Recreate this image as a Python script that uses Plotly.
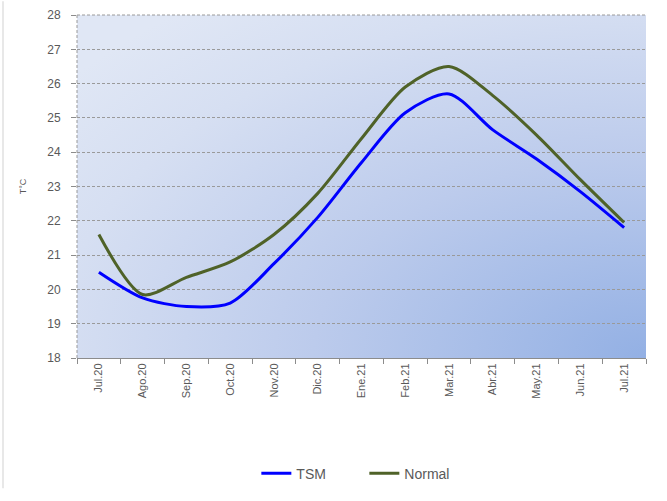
import base64
import plotly.graph_objects as go

categories = ["Jul.20", "Ago.20", "Sep.20", "Oct.20", "Nov.20", "Dic.20", "Ene.21",
              "Feb.21", "Mar.21", "Abr.21", "May.21", "Jun.21", "Jul.21"]
tsm = [20.5, 19.75, 19.5, 19.6, 20.75, 22.1, 23.7, 25.15, 25.7, 24.65, 23.8, 22.85, 21.8]
normal = [21.6, 19.85, 20.35, 20.8, 21.6, 22.8, 24.4, 25.9, 26.5, 25.65, 24.5, 23.2, 21.95]

W, H = 667, 501
ML, MR, MT, MB = 77, 21, 15, 136

svg = (
    '<svg xmlns="http://www.w3.org/2000/svg" width="200" height="200" viewBox="0 0 200 200" preserveAspectRatio="none">'
    '<defs><radialGradient id="g" cx="1" cy="1" r="1.3" gradientUnits="objectBoundingBox">'
    '<stop offset="0" stop-color="#93b0e4"/>'
    '<stop offset="0.45" stop-color="#bccbec"/>'
    '<stop offset="0.8" stop-color="#d6dff2"/>'
    '<stop offset="1" stop-color="#e0e7f5"/>'
    '</radialGradient></defs>'
    '<rect x="0" y="0" width="200" height="200" fill="url(#g)"/></svg>'
)
src = "data:image/svg+xml;base64," + base64.b64encode(svg.encode()).decode()

grid_col = "#9a9a9a"

fig = go.Figure()
fig.add_trace(go.Scatter(x=categories, y=tsm, name="TSM", mode="lines",
                         line=dict(color="#0000ff", width=3, shape="spline", smoothing=0.8)))
fig.add_trace(go.Scatter(x=categories, y=normal, name="Normal", mode="lines",
                         line=dict(color="#4f6228", width=3, shape="spline", smoothing=0.8)))

fig.update_layout(
    width=W, height=H,
    margin=dict(l=ML, r=MR, t=MT, b=MB),
    paper_bgcolor="white",
    plot_bgcolor="rgba(0,0,0,0)",
    font=dict(family="Liberation Sans", size=11, color="#595959"),
    showlegend=True,
    legend=dict(orientation="h", x=0.505, xanchor="center", y=-0.337, yanchor="middle",
                font=dict(size=14, color="#595959"), entrywidth=63, entrywidthmode="pixels"),
    images=[dict(source=src, xref="paper", yref="paper", x=0, y=1, sizex=1, sizey=1,
                 xanchor="left", yanchor="top", sizing="stretch", layer="below")],
    shapes=[
        dict(type="line", xref="paper", yref="paper", x0=0, x1=0, y0=0, y1=1,
             line=dict(color=grid_col, width=1, dash="3px,2px")),
        dict(type="line", xref="paper", yref="paper", x0=0, x1=1, y0=1, y1=1,
             line=dict(color=grid_col, width=1, dash="3px,2px")),
        dict(type="line", xref="paper", yref="paper", x0=-0.13, x1=-0.13, y0=-0.38, y1=1.04,
             line=dict(color="#e8e8e8", width=2)),
    ],
)
fig.update_xaxes(
    type="category", tickson="boundaries", ticks="outside", ticklen=5, tickcolor="#8c8c8c",
    showline=True, linecolor="#8c8c8c", linewidth=1, showgrid=False, automargin=False,
    tickangle=-90, tickfont=dict(size=11, color="#595959"), range=[-0.5, 12.5],
)
fig.update_yaxes(
    range=[18, 28], dtick=1, tick0=18, showgrid=True, gridcolor=grid_col, griddash="3px,2px",
    gridwidth=1, ticks="outside", ticklen=5, tickcolor="#8c8c8c", showline=False,
    zeroline=False, tickfont=dict(size=12, color="#595959"), automargin=False,
    ticklabelstandoff=8,
    title=dict(text="T°C", font=dict(size=9, color="#595959"), standoff=19),
)

fig.write_html(
    "out.html",
    config={"displayModeBar": False},
    post_script="document.body.style.margin='0';document.documentElement.style.overflow='hidden';",
)
